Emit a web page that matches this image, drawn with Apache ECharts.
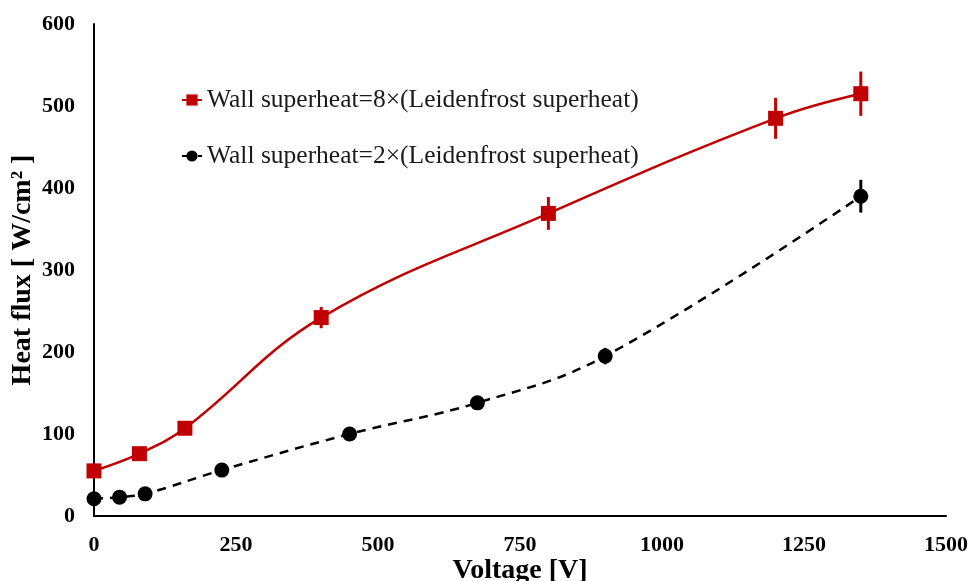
<!DOCTYPE html>
<html><head><meta charset="utf-8">
<script src="https://cdn.jsdelivr.net/npm/echarts@6/dist/echarts.min.js"></script>
<style>html,body{margin:0;padding:0;background:#fff}#c{width:972px;height:581px}</style>
</head><body><div id="c"></div>
<script>
const seriesNames = ['Wall superheat=8×(Leidenfrost superheat)', 'Wall superheat=2×(Leidenfrost superheat)'];
const voltageRed = [0, 80, 160, 400, 800, 1200, 1350];
const fluxRed = [55, 76, 107, 242, 369, 485, 515];
const errRed = [0, 0, 0, 13, 20, 25, 27];
const voltageBlack = [0, 45, 90, 225, 450, 675, 900, 1350];
const fluxBlack = [21, 23, 27, 56, 100, 138, 195, 390];
const errBlack = [0, 0, 0, 0, 0, 0, 10, 20];
const xTicks = [0, 250, 500, 750, 1000, 1250, 1500];
const yTicks = [0, 100, 200, 300, 400, 500, 600];

const RED = '#c00000';
const FONT = '"Liberation Serif", "Times New Roman", serif';

function pts(xs, ys) { return xs.map((x, i) => [x, ys[i]]); }
function errData(xs, ys, es) { return xs.map((x, i) => [x, ys[i] - es[i], ys[i] + es[i]]).filter((d, i) => es[i] > 0); }
function errSeries(data, color) {
  return {
    type: 'custom', silent: true, z: 1,
    data: data,
    encode: { x: 0, y: [1, 2] },
    renderItem: function (params, api) {
      const lo = api.coord([api.value(0), api.value(1)]);
      const hi = api.coord([api.value(0), api.value(2)]);
      return { type: 'line', shape: { x1: lo[0], y1: lo[1], x2: hi[0], y2: hi[1] }, style: { stroke: color, lineWidth: 3 } };
    }
  };
}

const chart = echarts.init(document.getElementById('c'), null, { renderer: 'canvas' });
chart.setOption({
  animation: false,
  backgroundColor: '#fff',
  grid: { left: 94, right: 26, top: 24, bottom: 65, containLabel: false, outerBoundsMode: 'none' },
  legend: {
    left: 176, top: 82, orient: 'vertical', itemGap: 30,
    itemWidth: 20, itemHeight: 14,
    textStyle: { fontFamily: FONT, fontSize: 25.5, color: '#1a1a1a' },
    data: seriesNames
  },
  xAxis: {
    type: 'value', min: 0, max: 1500, interval: 250,
    axisLine: { lineStyle: { color: '#000', width: 2 } },
    axisTick: { show: false }, splitLine: { show: false },
    axisLabel: { fontFamily: FONT, fontWeight: 'bold', fontSize: 22, color: '#000', margin: 18,
      formatter: v => String(v) },
    name: 'Voltage [V]', nameLocation: 'middle', nameGap: 41, nameMoveOverlap: false,
    nameTextStyle: { fontFamily: FONT, fontWeight: 'bold', fontSize: 28, color: '#000' }
  },
  yAxis: {
    type: 'value', min: 0, max: 600, interval: 100,
    axisLine: { show: true, lineStyle: { color: '#000', width: 2 } },
    axisTick: { show: false }, splitLine: { show: false },
    axisLabel: { fontFamily: FONT, fontWeight: 'bold', fontSize: 22, color: '#000', margin: 19,
      formatter: v => String(v) },
    name: 'Heat flux [ W/cm² ]', nameLocation: 'middle', nameGap: 57, nameRotate: 90, nameMoveOverlap: false,
    nameTextStyle: { fontFamily: FONT, fontWeight: 'bold', fontSize: 28, color: '#000' }
  },
  series: [
    errSeries(errData(voltageRed, fluxRed, errRed), RED),
    errSeries(errData(voltageBlack, fluxBlack, errBlack), '#000'),
    {
      name: seriesNames[0], type: 'line', smooth: 0.4, z: 3,
      data: pts(voltageRed, fluxRed),
      symbol: 'rect', symbolSize: 15,
      itemStyle: { color: RED },
      lineStyle: { color: RED, width: 2.5 }
    },
    {
      name: seriesNames[1], type: 'line', smooth: 0.4, z: 3,
      data: pts(voltageBlack, fluxBlack),
      symbol: 'circle', symbolSize: 15,
      itemStyle: { color: '#000' },
      lineStyle: { color: '#000', width: 2.5, type: [9, 7] }
    }
  ]
});
</script></body></html>
